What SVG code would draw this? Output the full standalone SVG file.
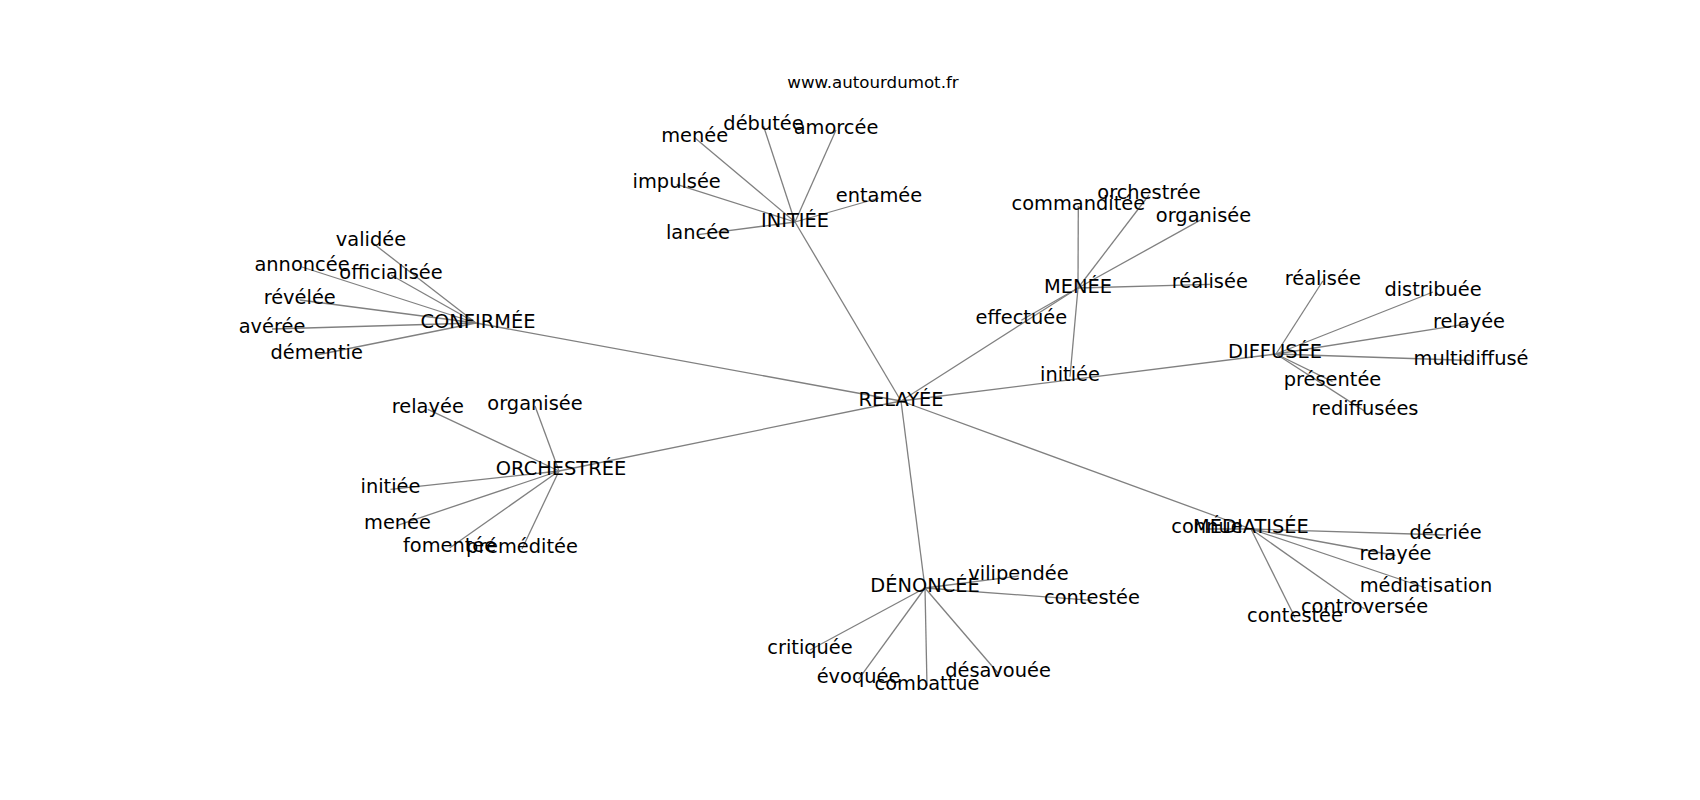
<svg xmlns="http://www.w3.org/2000/svg" width="1700" height="800" viewBox="0 0 1700 800">
<style>
text{font-family:"DejaVu Sans",sans-serif;font-size:19.4px;fill:#000;text-anchor:middle}
.title{font-size:16.67px}
.e line{stroke:#808080;stroke-width:1.3}
</style>
<rect width="1700" height="800" fill="#fff"/>
<g id="connectors" class="e">
<line x1="901" y1="401" x2="795" y2="222"/>
<line x1="901" y1="401" x2="476" y2="323"/>
<line x1="901" y1="401" x2="559" y2="471"/>
<line x1="901" y1="401" x2="925" y2="588"/>
<line x1="901" y1="401" x2="1251" y2="529"/>
<line x1="901" y1="401" x2="1276" y2="354"/>
<line x1="901" y1="401" x2="1078" y2="288"/>
<line x1="795" y1="222" x2="694.7" y2="137.7"/>
<line x1="795" y1="222" x2="763.5" y2="126"/>
<line x1="795" y1="222" x2="836" y2="130"/>
<line x1="795" y1="222" x2="676.7" y2="184.3"/>
<line x1="795" y1="222" x2="879" y2="198"/>
<line x1="795" y1="222" x2="698" y2="234.6"/>
<line x1="476" y1="323" x2="371" y2="241.7"/>
<line x1="476" y1="323" x2="302" y2="267"/>
<line x1="476" y1="323" x2="391" y2="275"/>
<line x1="476" y1="323" x2="299.7" y2="300"/>
<line x1="476" y1="323" x2="272" y2="329"/>
<line x1="476" y1="323" x2="316.7" y2="355"/>
<line x1="559" y1="471" x2="427.8" y2="409.3"/>
<line x1="559" y1="471" x2="535" y2="406"/>
<line x1="559" y1="471" x2="390.5" y2="489.3"/>
<line x1="559" y1="471" x2="397.5" y2="525.3"/>
<line x1="559" y1="471" x2="449.6" y2="548"/>
<line x1="559" y1="471" x2="522" y2="549"/>
<line x1="925" y1="588" x2="1018.5" y2="576"/>
<line x1="925" y1="588" x2="1092" y2="600.3"/>
<line x1="925" y1="588" x2="810" y2="650"/>
<line x1="925" y1="588" x2="858.5" y2="679.4"/>
<line x1="925" y1="588" x2="927" y2="686"/>
<line x1="925" y1="588" x2="998" y2="673"/>
<line x1="1251" y1="529" x2="1207" y2="529"/>
<line x1="1251" y1="529" x2="1445.6" y2="535"/>
<line x1="1251" y1="529" x2="1395.5" y2="555.5"/>
<line x1="1251" y1="529" x2="1426" y2="588"/>
<line x1="1251" y1="529" x2="1364.5" y2="609"/>
<line x1="1251" y1="529" x2="1295" y2="617.5"/>
<line x1="1276" y1="354" x2="1322.8" y2="281"/>
<line x1="1276" y1="354" x2="1433" y2="292"/>
<line x1="1276" y1="354" x2="1469" y2="323.6"/>
<line x1="1276" y1="354" x2="1471" y2="360.5"/>
<line x1="1276" y1="354" x2="1332.5" y2="381.7"/>
<line x1="1276" y1="354" x2="1365" y2="411.4"/>
<line x1="1078" y1="288" x2="1078.3" y2="206"/>
<line x1="1078" y1="288" x2="1149" y2="195"/>
<line x1="1078" y1="288" x2="1203.5" y2="218.4"/>
<line x1="1078" y1="288" x2="1209.8" y2="284.3"/>
<line x1="1078" y1="288" x2="1021.3" y2="320.3"/>
<line x1="1078" y1="288" x2="1070" y2="376.7"/>
</g>
<g id="title"><text class="title" x="873" y="87.7">www.autourdumot.fr</text></g>
<g id="n-relayee"><text x="901" y="406">RELAYÉE</text></g>
<g id="n-initiee"><text x="795" y="227">INITIÉE</text></g>
<g id="n-confirmee"><text x="478" y="328">CONFIRMÉE</text></g>
<g id="n-orchestree"><text x="561" y="475">ORCHESTRÉE</text></g>
<g id="n-denoncee"><text x="925" y="592">DÉNONCÉE</text></g>
<g id="n-mediatisee"><text x="1251" y="533">MÉDIATISÉE</text></g>
<g id="n-diffusee"><text x="1275" y="358">DIFFUSÉE</text></g>
<g id="n-menee"><text x="1078" y="292.5">MENÉE</text></g>
<g id="n-i-menee"><text x="694.7" y="141.7">menée</text></g>
<g id="n-i-debutee"><text x="763.5" y="130">débutée</text></g>
<g id="n-i-amorcee"><text x="836" y="134">amorcée</text></g>
<g id="n-i-impulsee"><text x="676.7" y="188.3">impulsée</text></g>
<g id="n-i-entamee"><text x="879" y="202">entamée</text></g>
<g id="n-i-lancee"><text x="698" y="238.6">lancée</text></g>
<g id="n-c-validee"><text x="371" y="245.7">validée</text></g>
<g id="n-c-annoncee"><text x="302" y="271">annoncée</text></g>
<g id="n-c-officialisee"><text x="391" y="279">officialisée</text></g>
<g id="n-c-revelee"><text x="299.7" y="304">révélée</text></g>
<g id="n-c-averee"><text x="272" y="333">avérée</text></g>
<g id="n-c-dementie"><text x="316.7" y="359">démentie</text></g>
<g id="n-o-relayee"><text x="427.8" y="413.3">relayée</text></g>
<g id="n-o-organisee"><text x="535" y="410">organisée</text></g>
<g id="n-o-initiee"><text x="390.5" y="493.3">initiée</text></g>
<g id="n-o-menee"><text x="397.5" y="529.3">menée</text></g>
<g id="n-o-fomentee"><text x="449.6" y="552">fomentée</text></g>
<g id="n-o-premeditee"><text x="522" y="553">préméditée</text></g>
<g id="n-d-vilipendee"><text x="1018.5" y="580">vilipendée</text></g>
<g id="n-d-contestee"><text x="1092" y="604.3">contestée</text></g>
<g id="n-d-critiquee"><text x="810" y="654">critiquée</text></g>
<g id="n-d-evoquee"><text x="858.5" y="683.4">évoquée</text></g>
<g id="n-d-combattue"><text x="927" y="690">combattue</text></g>
<g id="n-d-desavouee"><text x="998" y="677">désavouée</text></g>
<g id="n-m-connue"><text x="1207" y="533">connue</text></g>
<g id="n-m-decriee"><text x="1445.6" y="539">décriée</text></g>
<g id="n-m-relayee"><text x="1395.5" y="559.5">relayée</text></g>
<g id="n-m-mediatisation"><text x="1426" y="592">médiatisation</text></g>
<g id="n-m-controversee"><text x="1364.5" y="613">controversée</text></g>
<g id="n-m-contestee"><text x="1295" y="621.5">contestée</text></g>
<g id="n-f-realisee"><text x="1322.8" y="285">réalisée</text></g>
<g id="n-f-distribuee"><text x="1433" y="296">distribuée</text></g>
<g id="n-f-relayee"><text x="1469" y="327.6">relayée</text></g>
<g id="n-f-multidiffuse"><text x="1471" y="364.5">multidiffusé</text></g>
<g id="n-f-presentee"><text x="1332.5" y="385.7">présentée</text></g>
<g id="n-f-rediffusees"><text x="1365" y="415.4">rediffusées</text></g>
<g id="n-e-commanditee"><text x="1078.3" y="210">commanditée</text></g>
<g id="n-e-orchestree"><text x="1149" y="199">orchestrée</text></g>
<g id="n-e-organisee"><text x="1203.5" y="222.4">organisée</text></g>
<g id="n-e-realisee"><text x="1209.8" y="288.3">réalisée</text></g>
<g id="n-e-effectuee"><text x="1021.3" y="324.3">effectuée</text></g>
<g id="n-e-initiee"><text x="1070" y="380.7">initiée</text></g>
</svg>
